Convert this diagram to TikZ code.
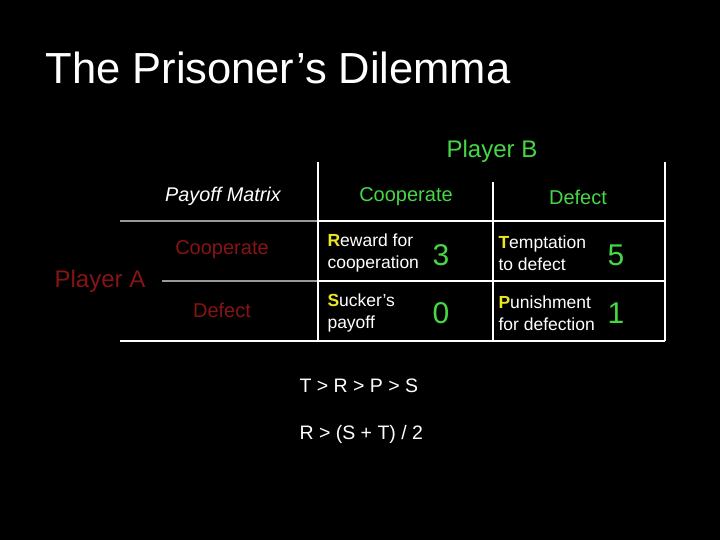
\documentclass[tikz,border=0pt]{standalone}
\usepackage{fontspec}
\setmainfont{Liberation Sans}
\begin{document}
\begin{tikzpicture}[x=1pt,y=-1pt,
  g/.style={text=grn,font=\fontsize{20}{24}\selectfont},
  r/.style={text=rd,font=\fontsize{20}{24}\selectfont},
  w/.style={text=white,font=\fontsize{17.5}{22}\selectfont,align=left,anchor=west},
  num/.style={text=grn,font=\fontsize{30}{34}\selectfont},
  ln/.style={white,line width=1.5pt},
  gl/.style={gray!80,line width=1.5pt}]
\definecolor{grn}{RGB}{70,215,70}
\definecolor{rd}{RGB}{135,20,20}
\definecolor{yl}{RGB}{235,230,30}
\newcommand{\yel}[1]{\textcolor{yl}{\textbf{#1}}}
\fill[black] (0,0) rectangle (720,540);
\useasboundingbox (0,0) rectangle (720,540);
\node[anchor=west,text=white,font=\fontsize{43.5}{50}\selectfont] (title) at (42,68) {The Prisoner’s Dilemma};
\node[g,font=\fontsize{24}{28}\selectfont] (pb) at (492,151) {Player B};
\node[text=white,font=\itshape\fontsize{19.8}{24}\selectfont] (pm) at (223,196) {Payoff Matrix};
\node[g] (bc) at (406,197) {Cooperate};
\node[g] (bd) at (578,197) {Defect};
\node[r] (ac) at (222,250) {Cooperate};
\node[r] (ad) at (222,310) {Defect};
\node[r,font=\fontsize{24}{28}\selectfont] (pa) at (100,281) {Player A};
\node[w] (rc) at (324,253) {\yel{R}eward for\\cooperation};
\node[num] (n3) at (441,255) {3};
\node[w] (tc) at (495,253) {\yel{T}emptation\\to defect};
\node[num] (n5) at (616,255) {5};
\node[w] (sc) at (324,313) {\yel{S}ucker’s\\payoff};
\node[num] (n0) at (441,313) {0};
\node[w] (pc) at (495,313) {\yel{P}unishment\\for defection};
\node[num] (n1) at (616,313) {1};
\node[w,font=\fontsize{19.5}{22}\selectfont] (e1) at (296,386) {T > R > P > S};
\node[w,font=\fontsize{19.5}{22}\selectfont] (e2) at (296,434) {R > (S + T) / 2};
\draw[gl] (120,221) -- (318,221);
\draw[ln] (318,221) -- (665,221);
\draw[gl] (162,281) -- (318,281);
\draw[ln] (318,281) -- (665,281);
\draw[ln] (120,341) -- (665,341);
\draw[ln] (318,162) -- (318,341);
\draw[ln] (493,182) -- (493,341);
\draw[ln] (665,162) -- (665,341);
\end{tikzpicture}
\end{document}
